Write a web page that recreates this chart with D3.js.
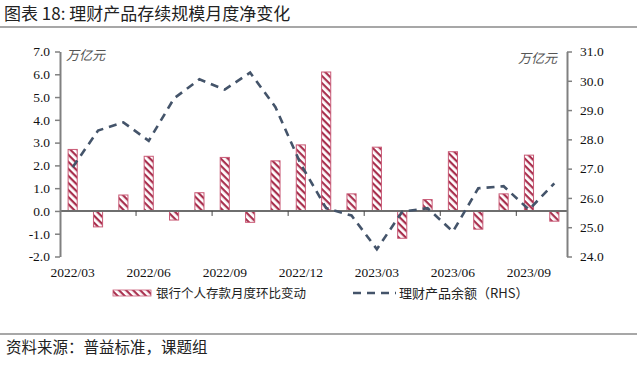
<!DOCTYPE html>
<html><head><meta charset="utf-8">
<script src="https://cdn.jsdelivr.net/npm/d3@7"></script>
<style>body{margin:0;background:#fff}svg{display:block}</style>
</head><body>
<script>
const months = ["2022/03","2022/04","2022/05","2022/06","2022/07","2022/08","2022/09","2022/10","2022/11","2022/12",
"2023/01","2023/02","2023/03","2023/04","2023/05","2023/06","2023/07","2023/08","2023/09","2023/10"];
const depositChange = [2.7,-0.7,0.7,2.4,-0.4,0.8,2.35,-0.5,2.2,2.9,6.1,0.75,2.8,-1.2,0.5,2.6,-0.8,0.75,2.45,-0.45];
const wmBalance = [27.05,28.3,28.58,27.95,29.4,30.05,29.7,30.28,29.1,27.15,25.65,25.4,24.25,25.53,25.65,24.85,26.33,26.4,25.6,26.5];
const leftTicks = [-2,-1,0,1,2,3,4,5,6,7];
const rightTicks = [24,25,26,27,28,29,30,31];
const xLabels = ["2022/03","2022/06","2022/09","2022/12","2023/03","2023/06","2023/09"];
const title = "图表 18: 理财产品存续规模月度净变化";
const unitLabel = "万亿元";
const seriesNames = ["银行个人存款月度环比变动","理财产品余额（RHS）"];
const source = "资料来源：普益标准，课题组";

const W=637,H=367;
const svg=d3.select("body").append("svg").attr("width",W).attr("height",H);
svg.append("rect").attr("width",W).attr("height",H).attr("fill","#fff");
const CJK="'Noto Sans CJK SC','Noto Sans',sans-serif";
const NUM="'Liberation Serif','DejaVu Serif',serif";

const defs=svg.append("defs");
const pat=defs.append("pattern").attr("id","hatch").attr("patternUnits","userSpaceOnUse")
  .attr("width",5).attr("height",5).attr("patternTransform","rotate(45)");
pat.append("rect").attr("width",5).attr("height",5).attr("fill","#fff");
pat.append("rect").attr("width",5).attr("height",2.2).attr("fill","#a8304e");

// title
svg.append("text").attr("x",4).attr("y",20).attr("font-family",CJK).attr("font-size",17).attr("fill","#222").text(title);
svg.append("line").attr("x1",0).attr("x2",W).attr("y1",27).attr("y2",27).attr("stroke","#8a8a8a").attr("stroke-width",1.5);
svg.append("line").attr("x1",0).attr("x2",W).attr("y1",334).attr("y2",334).attr("stroke","#8a8a8a").attr("stroke-width",1.5);
svg.append("text").attr("x",6).attr("y",353).attr("font-family",CJK).attr("font-size",15.5).attr("fill","#222").text(source);

const x0=60,x1=567,yTop=51.5,yBot=256.5;
const x=d3.scaleBand().domain(months).range([x0,x1]).paddingInner(0.64).paddingOuter(0.32);
const xb=d3.scaleBand().domain(months).range([x0,x1]);
const yL=d3.scaleLinear().domain([-2,7]).range([yBot,yTop]);
const yR=d3.scaleLinear().domain([24,31]).range([yBot,yTop]);

// bars
svg.append("g").selectAll("rect").data(depositChange).join("rect")
  .attr("x",(d,i)=>x(months[i]))
  .attr("width",x.bandwidth())
  .attr("y",d=>yL(Math.max(0,d)))
  .attr("height",d=>Math.abs(yL(d)-yL(0)))
  .attr("fill","url(#hatch)").attr("stroke","#c95a76").attr("stroke-width",1);

// zero line
svg.append("line").attr("x1",x0).attr("x2",x1).attr("y1",yL(0)).attr("y2",yL(0)).attr("stroke","#6e6e6e").attr("stroke-width",2);
// x ticks at boundaries every 3
svg.append("g").selectAll("line").data(months.filter((m,i)=>i%3===0&&i>0)).join("line")
  .attr("x1",d=>xb(d)).attr("x2",d=>xb(d)).attr("y1",yL(0)).attr("y2",yL(0)+5).attr("stroke","#444").attr("stroke-width",1);

// line
const line=d3.line().x((d,i)=>xb(months[i])+xb.bandwidth()/2).y(d=>yR(d));
svg.append("path").datum(wmBalance).attr("d",line).attr("fill","none").attr("stroke","#44546a")
  .attr("stroke-width",2.6).attr("stroke-dasharray","8,6");

// axes
const la=svg.append("g").attr("transform",`translate(${x0},0)`)
  .call(d3.axisLeft(yL).tickValues(leftTicks).tickFormat(v=>v.toFixed(1)).tickSize(5).tickSizeOuter(0).tickPadding(5));
const ra=svg.append("g").attr("transform",`translate(${x1},0)`)
  .call(d3.axisRight(yR).tickValues(rightTicks).tickFormat(v=>v.toFixed(1)).tickSize(5).tickSizeOuter(0).tickPadding(8));
[la,ra].forEach(g=>{
  g.select(".domain").attr("stroke","#808080").attr("stroke-width",2);
  g.selectAll(".tick line").attr("stroke","#808080").attr("stroke-width",1.5);
  g.selectAll(".tick text").attr("font-family",NUM).attr("font-size",13.5).attr("fill","#111");
});

// x labels
svg.append("g").selectAll("text").data(xLabels).join("text")
  .attr("x",d=>xb(d)+xb.bandwidth()/2).attr("y",277).attr("text-anchor","middle")
  .attr("font-family",NUM).attr("font-size",13.5).attr("fill","#111").text(d=>d);

// units
svg.append("text").attr("x",66).attr("y",60).attr("font-family",CJK).attr("font-size",13).attr("fill","#555").attr("font-style","italic").text(unitLabel);
svg.append("text").attr("x",518).attr("y",63).attr("font-family",CJK).attr("font-size",13).attr("fill","#555").attr("font-style","italic").text(unitLabel);

// legend
const lg=svg.append("g");
lg.append("rect").attr("x",113).attr("y",290).attr("width",38).attr("height",6).attr("fill","url(#hatch)").attr("stroke","#c95a76").attr("stroke-width",0.8);
lg.append("text").attr("x",156).attr("y",298).attr("font-family",CJK).attr("font-size",12.5).attr("fill","#222").text(seriesNames[0]);
lg.append("line").attr("x1",353).attr("x2",396).attr("y1",293).attr("y2",293).attr("stroke","#44546a").attr("stroke-width",2.6).attr("stroke-dasharray","8,6");
lg.append("text").attr("x",399).attr("y",298).attr("font-family",CJK).attr("font-size",13).attr("fill","#222").text(seriesNames[1]);
</script>
</body></html>
